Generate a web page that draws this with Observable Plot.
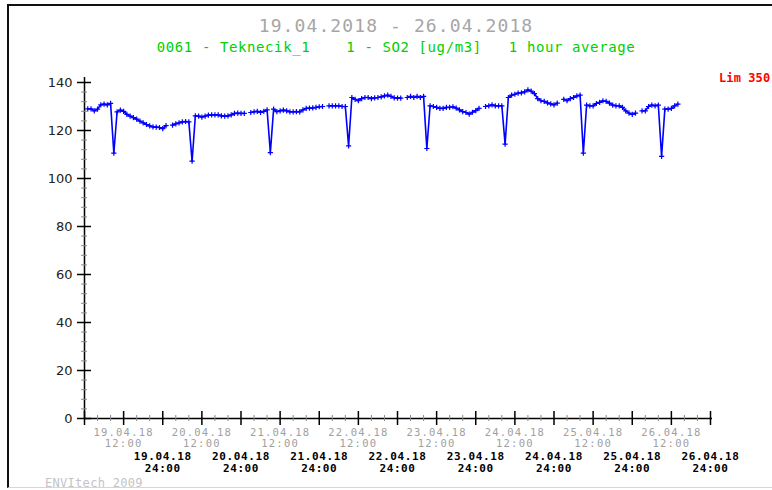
<!DOCTYPE html>
<html>
<head>
<meta charset="utf-8">
<script src="https://cdn.jsdelivr.net/npm/d3@7"></script>
<script src="https://cdn.jsdelivr.net/npm/@observablehq/plot@0.6"></script>
<style>
  html, body { margin: 0; padding: 0; background: #fff; width: 772px; height: 490px; overflow: hidden; }
  #page { position: relative; width: 772px; height: 490px; }
  #frame { position: absolute; left: 7px; top: 4px; width: 800px; height: 484px; box-sizing: border-box;
           border-top: 2px solid #111; border-left: 2px solid #111; border-bottom: 1px solid #d6d6d6; }
  .txt { position: absolute; white-space: pre; font-family: "DejaVu Sans Mono", monospace; }
  #title { left: 10px; width: 772px; text-align: center; top: 17px; font-size: 18px; line-height: 18px;
           letter-spacing: 1.1px; color: #a6a6a6; }
  #subtitle { left: 10px; width: 772px; text-align: center; top: 40px; font-size: 14px; line-height: 14px;
              letter-spacing: 0.6px; color: #00d000; }
  #lim { left: 719px; top: 72px; font-size: 12px; line-height: 12px; font-weight: bold; letter-spacing: 0.1px; color: #ff0000; }
  #footer { left: 45px; top: 477px; font-size: 12px; line-height: 12px; letter-spacing: 0.3px; color: #c4c4c4; }
  #chart { position: absolute; left: 0; top: 60px; }
  #chart g[fill="#a0a0a0"] { letter-spacing: 1.2px; }
  #chart g[font-weight="bold"] { letter-spacing: 0.6px; }
</style>
</head>
<body>
<div id="page">
  <div id="frame"></div>
  <div id="title" class="txt"></div>
  <div id="subtitle" class="txt"></div>
  <div id="lim" class="txt"></div>
  <div id="footer" class="txt"></div>
  <div id="chart"></div>
</div>
<script>
// Header texts
const periodTitle = "19.04.2018 - 26.04.2018";
const stationLine = "0061 - Teknecik_1    1 - SO2 [ug/m3]   1 hour average";
const limitLabel = "Lim 350";
const footerText = "ENVItech 2009";

// Day labels used on the time axis
const dayLabels = ["19.04.18", "20.04.18", "21.04.18", "22.04.18", "23.04.18", "24.04.18", "25.04.18", "26.04.18"];

// Hourly SO2 averages (ug/m3), one array per day starting at 00:00; null = missing hour
const day19 = [null, 129, 129, 128.2, 128.9, 130.7, 131, 130.7, 131.3, 110.6, 127.8, 128.5,
               128, 126.7, 126, 125.4, 124.7, 123.9, 123.2, 122.5, 121.9, 121.5, 121.4, 121.25];
const day20 = [120.8, 122, null, 122.2, 122.8, 123.2, 123.6, 123.75, 123.6, 107.2, 126.1, 126,
               125.6, 126, 126.4, 126.5, 126.5, 126.5, 126.1, 126, 126.1, 126.5, 127.1, 127.2];
const day21 = [127.1, 127.1, null, 127.5, 127.8, 128, 127.5, 128, 128.6, 110.8, 128.9, 127.9,
               128.2, 128.5, 128.2, 127.8, 127.8, 127.9, 127.8, 128.6, 129.2, 129.3, 129.4, 129.6];
const day22 = [129.9, 130, null, 130.3, 130.3, 130.3, 130.3, 130, 130, 113.6, 133.75, 133,
               132.4, 133.3, 133.75, 133.75, 133.3, 133.6, 133.75, 134, 134.4, 134.7, 134.2, 133.6];
const day23 = [133.5, 133.5, null, 133.75, 134.2, 133.75, 134.2, 133.75, 134.2, 112.5, 130.3, 130,
               129.6, 129.2, 129.2, 129.6, 129.6, 129.9, 129.3, 128.6, 127.9, 127.5, 126.8, 127.6];
const day24 = [128.3, 129.2, null, 130, 130.3, 130.7, 130.3, 130.3, 130.3, 114.3, 133.75, 134.7,
               135.1, 135.6, 135.7, 136.1, 136.9, 136.4, 135.4, 133.3, 132.4, 132.1, 131.5, 131.1];
const day25 = [130.7, 131.4, null, 133, 132.4, 133.3, 133.75, 134.4, 134.7, 110.6, 130.6, 130.3,
               130.3, 131.25, 131.7, 132.4, 132.1, 131.4, 130.6, 130.3, 130.3, 129.6, 128.2, 127.2];
const day26 = [126.7, 127.2, null, 128.2, 128.2, 130, 130.6, 130.3, 130.6, 109.2, 128.9, 128.9,
               129.2, 130.3, 131];

const days = [day19, day20, day21, day22, day23, day24, day25, day26];

// Axis ticks (x in hours since 19.04.2018 00:00, y in ug/m3)
const yMajor = [0, 20, 40, 60, 80, 100, 120, 140];
const yMinor = d3.range(0, 141, 4).filter(v => v % 20 !== 0);
const xMajor = d3.range(0, 193, 12);
const xMinor = d3.range(0, 193, 4).filter(h => h % 12 !== 0);
const noonTicks = dayLabels.map((_, d) => d * 24 + 12);
const midnightTicks = dayLabels.map((_, d) => d * 24 + 24);

const series = days.flatMap((vals, d) => vals.map((v, i) => ({h: d * 24 + i, v})));
const measured = series.filter(p => p.v != null);

document.getElementById("title").textContent = periodTitle;
document.getElementById("subtitle").textContent = stationLine;
document.getElementById("lim").textContent = limitLabel;
document.getElementById("footer").textContent = footerText;

// Thin "+" marker drawn with strokes
const cross = {
  draw(context, size) {
    const r = Math.sqrt(size / Math.PI);
    context.moveTo(-r, 0); context.lineTo(r, 0);
    context.moveTo(0, -r); context.lineTo(0, r);
  }
};

const zero = () => 0;

const chart = Plot.plot({
  width: 772,
  height: 416,
  marginTop: 22,
  marginBottom: 58,
  marginLeft: 84,
  marginRight: 62,
  style: {background: "transparent", fontFamily: "DejaVu Sans"},
  x: {domain: [0, 192]},
  y: {domain: [0, 140]},
  marks: [
    // axis lines
    Plot.ruleX([0], {stroke: "#000", strokeWidth: 1.5, insetTop: -5}),
    Plot.ruleY([0], {stroke: "#000", strokeWidth: 1.5, insetRight: -2}),
    // crossing tick marks
    Plot.ruleY(yMinor, {y: d => d, x1: zero, x2: zero, insetLeft: -3, insetRight: -3, stroke: "#8a8a8a"}),
    Plot.ruleY(yMajor, {y: d => d, x1: zero, x2: zero, insetLeft: -7, insetRight: -7, stroke: "#000", strokeWidth: 1.5}),
    Plot.ruleX(xMinor, {x: d => d, y1: zero, y2: zero, insetTop: -3, insetBottom: -3, stroke: "#8a8a8a"}),
    Plot.ruleX(xMajor, {x: d => d, y1: zero, y2: zero, insetTop: -7, insetBottom: -7, stroke: "#000", strokeWidth: 1.5}),
    // tick labels
    Plot.axisY(yMajor, {tickSize: 0, tickPadding: 12, fontSize: 13, fill: "#222", label: null}),
    Plot.axisX(noonTicks, {
      tickSize: 0, tickPadding: 9.5, label: null,
      tickFormat: h => `${dayLabels[(h - 12) / 24]}\n12:00`,
      fontFamily: "DejaVu Sans Mono", fontSize: 10.5, lineHeight: 1.06, fill: "#a0a0a0"
    }),
    Plot.axisX(midnightTicks, {
      tickSize: 0, tickPadding: 33, label: null,
      tickFormat: h => `${dayLabels[h / 24 - 1]}\n24:00`,
      fontFamily: "DejaVu Sans Mono", fontSize: 11, fontWeight: "bold", lineHeight: 1.1, fill: "#000"
    }),
    // hourly SO2 series
    Plot.line(series, {x: "h", y: "v", stroke: "#0000ff", strokeWidth: 1.6}),
    Plot.dot(measured, {x: "h", y: "v", symbol: cross, r: 2.6, stroke: "#0000ff", fill: "none", strokeWidth: 1.2})
  ]
});

document.getElementById("chart").appendChild(chart);
</script>
</body>
</html>
